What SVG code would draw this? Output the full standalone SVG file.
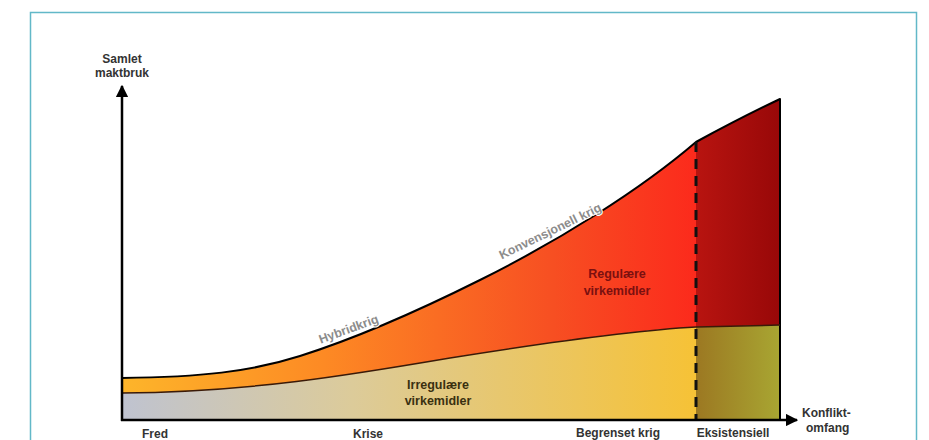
<svg xmlns="http://www.w3.org/2000/svg" width="929" height="440" viewBox="0 0 929 440">
<style>
.lbl{font-family:"Liberation Sans",Arial,sans-serif;font-weight:bold;font-size:12px;fill:#333;text-anchor:middle}
.lft{text-anchor:start}
.curve{font-family:"Liberation Sans",Arial,sans-serif;font-weight:bold;font-size:12.5px;fill:#8c8c8c;stroke:#fff;stroke-width:2;paint-order:stroke;text-anchor:middle}
.reg{font-family:"Liberation Sans",Arial,sans-serif;font-weight:bold;font-size:12.5px;text-anchor:middle}
</style>
<defs>
<linearGradient id="gOrange" x1="122" y1="0" x2="696" y2="0" gradientUnits="userSpaceOnUse">
<stop offset="0" stop-color="#fdb52a"/>
<stop offset="0.35" stop-color="#fd8a24"/>
<stop offset="0.75" stop-color="#f74f22"/>
<stop offset="1" stop-color="#fc2a1c"/>
</linearGradient>
<linearGradient id="gLow" x1="122" y1="0" x2="696" y2="0" gradientUnits="userSpaceOnUse">
<stop offset="0" stop-color="#bfc3d0"/>
<stop offset="0.4" stop-color="#dccb9a"/>
<stop offset="1" stop-color="#f6c236"/>
</linearGradient>
<linearGradient id="gDark" x1="696" y1="0" x2="780" y2="0" gradientUnits="userSpaceOnUse">
<stop offset="0" stop-color="#b81410"/>
<stop offset="1" stop-color="#980808"/>
</linearGradient>
<linearGradient id="gOlive" x1="696" y1="0" x2="780" y2="0" gradientUnits="userSpaceOnUse">
<stop offset="0" stop-color="#9c7822"/>
<stop offset="1" stop-color="#a8a632"/>
</linearGradient>
<marker id="arr" viewBox="0 0 10 10" refX="9" refY="5" markerWidth="5" markerHeight="5" orient="auto" markerUnits="strokeWidth">
<path d="M0,0 L10,5 L0,10 z" fill="#000"/>
</marker>
</defs>
<rect width="929" height="440" fill="#fff"/>
<rect x="30.5" y="12.5" width="886" height="440" fill="none" stroke="#62b8c8" stroke-width="1.5"/>

<g id="regions">
<path id="orange" d="M122,378 C200,377 250,372 300,356 C360,337 420,310 480,280 C560,240 640,190 696,142 L696,327 C640,330 550,342 450,358 C350,375 250,392 122,393 Z" fill="url(#gOrange)"/>
<path id="lower" d="M122,393 C250,392 350,375 450,358 C550,342 640,330 696,327 L696,420 L122,420 Z" fill="url(#gLow)"/>
<path id="dark" d="M696,142 Q740,118 780,99 L780,325 L696,327 Z" fill="url(#gDark)"/>
<path id="olive" d="M696,327 L780,325 L780,420 L696,420 Z" fill="url(#gOlive)"/>
</g>

<g id="connectors" fill="none">
<path d="M122,378 C200,377 250,372 300,356 C360,337 420,310 480,280 C560,240 640,190 696,142 Q740,118 780,99 L780,420" stroke="#000" stroke-width="2" stroke-linejoin="round"/>
<path d="M122,393 C250,392 350,375 450,358 C550,342 640,330 696,327 L780,325" stroke="#3a1a08" stroke-width="1.5"/>
<line x1="696" y1="142" x2="696" y2="420" stroke="#111" stroke-width="3" stroke-dasharray="10,7"/>
<line x1="122" y1="421" x2="122" y2="86" stroke="#000" stroke-width="2.5" marker-end="url(#arr)"/>
<line x1="121" y1="420" x2="797" y2="420" stroke="#000" stroke-width="2.5" marker-end="url(#arr)"/>
</g>

<g id="axis-labels">
<text class="lbl" x="122" y="63">Samlet</text>
<text class="lbl" x="122" y="77">maktbruk</text>
<text class="lbl lft" x="802" y="417">Konflikt-</text>
<text class="lbl lft" x="806" y="432">omfang</text>
<text class="lbl" x="155" y="438">Fred</text>
<text class="lbl" x="368" y="438">Krise</text>
<text class="lbl" x="618" y="437">Begrenset krig</text>
<text class="lbl" x="733" y="437">Eksistensiell</text>
</g>

<g id="curve-labels">
<text class="curve" transform="translate(350,333) rotate(-20)">Hybridkrig</text>
<text class="curve" transform="translate(552,235) rotate(-26)">Konvensjonell krig</text>
</g>

<g id="region-labels">
<text class="reg" x="438" y="389" fill="#3a3010">Irregulære</text>
<text class="reg" x="438" y="405" fill="#3a3010">virkemidler</text>
<text class="reg" x="617" y="278" fill="#7a1010">Regulære</text>
<text class="reg" x="617" y="295" fill="#7a1010">virkemidler</text>
</g>
</svg>
